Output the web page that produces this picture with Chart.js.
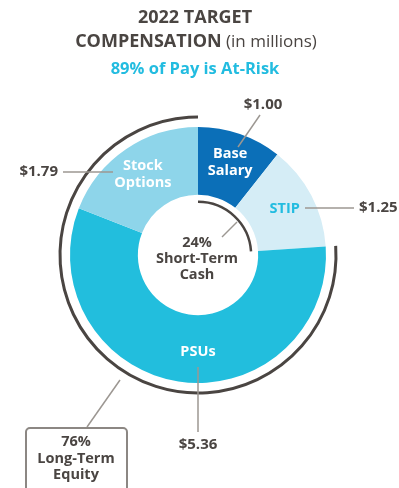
<!DOCTYPE html>
<html>
<head>
<meta charset="utf-8">
<script src="https://cdn.jsdelivr.net/npm/chart.js@4/dist/chart.umd.min.js"></script>
<style>
  html, body { margin: 0; padding: 0; background: #fff; }
  #wrap { width: 399px; height: 488px; }
</style>
</head>
<body>
<div id="wrap"><canvas id="compChart" width="399" height="488"></canvas></div>
<script>
// Pay mix, clockwise from 12 o'clock
const categories = ['Base Salary', 'STIP', 'PSUs', 'Stock Options'];
const amounts = [1.00, 1.25, 5.36, 1.79];
const segmentLines = [['Base', 'Salary'], ['STIP'], ['PSUs'], ['Stock', 'Options']];
const valueLabels = ['$1.00', '$1.25', '$5.36', '$1.79'];
const colors = ['#0b6fb8', '#d5edf6', '#22bedd', '#8ed5ea'];
const shortTermLines = ['24%', 'Short-Term', 'Cash'];
const longTermLines = ['76%', 'Long-Term', 'Equity'];

const DARK = '#4a4542';
const CYAN = '#22bce0';
const LEADER = '#9c9792';
const FONT = '"Open Sans", Roboto, sans-serif';

function line(ctx, x1, y1, x2, y2) {
    ctx.beginPath();
    ctx.moveTo(x1, y1);
    ctx.lineTo(x2, y2);
    ctx.stroke();
}

function textLines(ctx, lines, x, y, step) {
    lines.forEach((t, i) => ctx.fillText(t, x, y + i * step));
}

const decorations = {
    id: 'decorations',
    afterDraw(chart) {
        const ctx = chart.ctx;
        const arcs = chart.getDatasetMeta(0).data;
        const cx = arcs[0].x, cy = arcs[0].y;
        const R = arcs[0].outerRadius, r = arcs[0].innerRadius;

        ctx.save();
        ctx.textAlign = 'center';
        ctx.textBaseline = 'middle';

        // titulo
        ctx.fillStyle = DARK;
        ctx.font = `bold 18px ${FONT}`;
        ctx.fillText('2022 TARGET', 195, 18);
        const head = 'COMPENSATION';
        const tail = ' (in millions)';
        const wHead = ctx.measureText(head).width;
        ctx.font = `17px ${FONT}`;
        const wTail = ctx.measureText(tail).width;
        const left = 196 - (wHead + wTail) / 2;
        ctx.textAlign = 'left';
        ctx.font = `bold 18px ${FONT}`;
        ctx.fillText(head, left, 42);
        ctx.font = `17px ${FONT}`;
        ctx.fillText(tail, left + wHead, 42);
        ctx.textAlign = 'center';
        ctx.fillStyle = CYAN;
        ctx.font = `bold 16.5px ${FONT}`;
        ctx.fillText('89% of Pay is At-Risk', 195, 69);

        // etiquetas dentro de cada segmento
        ctx.font = `bold 14.5px ${FONT}`;
        arcs.forEach((arc, i) => {
            let a = (arc.startAngle + arc.endAngle) / 2;
            if (i === 2) a = Math.PI / 2;   // PSUs centrado abajo
            const rr = i === 2 ? 97 : 98;
            const x = cx + Math.cos(a) * rr;
            const y = cy + Math.sin(a) * rr;
            ctx.fillStyle = i === 1 ? CYAN : '#ffffff';
            const lines = segmentLines[i];
            textLines(ctx, lines, x, y - (lines.length - 1) * 8.5, 17);
        });

        // arcos de agrupacion
        ctx.strokeStyle = DARK;
        ctx.lineWidth = 3;
        ctx.beginPath();
        ctx.arc(cx, cy, R + 10, arcs[2].startAngle, arcs[3].endAngle);
        ctx.stroke();
        ctx.lineWidth = 2.5;
        ctx.beginPath();
        ctx.arc(cx, cy, r - 7, arcs[0].startAngle, arcs[1].endAngle);
        ctx.stroke();

        // lineas guia
        ctx.strokeStyle = LEADER;
        ctx.lineWidth = 1.5;
        line(ctx, cx + 62, cy - 140, cx + 40, cy - 108);     // base
        line(ctx, cx + 107, cy - 47, cx + 156, cy - 47);     // stip
        line(ctx, cx, cy + 112, cx, cy + 177);               // psus
        line(ctx, cx - 135, cy - 83, cx - 85, cy - 83);      // opciones
        line(ctx, cx + 39, cy - 33, cx + 24, cy - 18);       // corto plazo
        line(ctx, cx - 78, cy + 125, cx - 111, cy + 172);    // largo plazo

        // montos
        ctx.fillStyle = DARK;
        ctx.font = `bold 15px ${FONT}`;
        ctx.fillText(valueLabels[0], cx + 65, cy - 150);
        ctx.fillText(valueLabels[2], cx, cy + 190);
        ctx.textAlign = 'left';
        ctx.fillText(valueLabels[1], cx + 161, cy - 47);
        ctx.textAlign = 'right';
        ctx.fillText(valueLabels[3], cx - 140, cy - 83);
        ctx.textAlign = 'center';

        // texto central
        ctx.font = `bold 14.5px ${FONT}`;
        textLines(ctx, shortTermLines, cx - 1, cy - 12, 16);

        // recuadro de largo plazo
        ctx.strokeStyle = '#8c8783';
        ctx.lineWidth = 2;
        ctx.beginPath();
        ctx.roundRect(cx - 172, cy + 173, 101, 80, 4);
        ctx.stroke();
        ctx.fillStyle = DARK;
        textLines(ctx, longTermLines, cx - 122, cy + 187, 16.5);

        ctx.restore();
    }
};

new Chart(document.getElementById('compChart'), {
    type: 'doughnut',
    data: {
        labels: categories,
        datasets: [{
            data: amounts,
            backgroundColor: colors,
            borderWidth: 0,
            hoverOffset: 0
        }]
    },
    options: {
        responsive: false,
        animation: false,
        cutout: '47%',
        layout: { padding: { left: 70, right: 73, top: 127, bottom: 105 } },
        plugins: {
            legend: { display: false },
            tooltip: { enabled: false },
            title: { display: false }
        }
    },
    plugins: [decorations]
});
</script>
</body>
</html>
